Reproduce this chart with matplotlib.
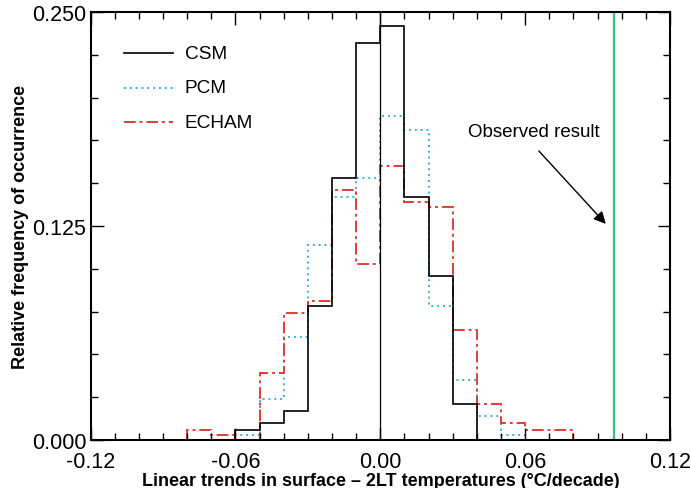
import numpy as np
import matplotlib
matplotlib.use("Agg")
from matplotlib import pyplot as plt
from matplotlib.ticker import MultipleLocator

plt.rcParams['font.family'] = ['Liberation Sans', 'DejaVu Sans']
plt.rcParams['axes.unicode_minus'] = False

# histogram bins (trend, degC/decade) and relative frequencies
bin_edges = [-0.08, -0.07, -0.06, -0.05, -0.04, -0.03, -0.02, -0.01, 0.00,
             0.01, 0.02, 0.03, 0.04, 0.05, 0.06, 0.07, 0.08]
csm = [0.0, 0.0, 0.006, 0.010, 0.017, 0.078, 0.153, 0.232,
       0.242, 0.142, 0.096, 0.021, 0.0, 0.0, 0.0, 0.0]
pcm = [0.0, 0.0, 0.003, 0.024, 0.060, 0.114, 0.142, 0.153,
       0.189, 0.181, 0.078, 0.035, 0.014, 0.003, 0.0, 0.0]
echam = [0.006, 0.003, 0.0, 0.039, 0.074, 0.081, 0.146, 0.103,
         0.160, 0.139, 0.136, 0.064, 0.021, 0.010, 0.006, 0.006]
observed = 0.097

x_ticks = [-0.12, -0.06, 0.00, 0.06, 0.12]
x_labels = ['-0.12', '-0.06', '0.00', '0.06', '0.12']
y_ticks = [0.0, 0.125, 0.25]
y_labels = ['0.000', '0.125', '0.250']

fig = plt.figure(figsize=(6.9, 4.89), dpi=100)
ax = fig.add_axes([0.1314, 0.0982, 0.8396, 0.8753])

blue = '#3aaee0'
red = '#e03c3c'
green = '#3cc080'

ax.stairs(pcm, bin_edges, color=blue, lw=1.4, linestyle=(0, (1, 2)), baseline=0)
ax.stairs(echam, bin_edges, color=red, lw=1.4, linestyle=(0, (6, 2, 1.5, 2)), baseline=0)
ax.stairs(csm, bin_edges, color='black', lw=1.2, baseline=0)
ax.axvline(0, color='black', lw=0.9)
ax.axvline(observed, color=green, lw=1.6)

# legend drawn by hand like the original
leg = [('CSM', 'black', '-', 1.2), ('PCM', blue, (0, (1, 2)), 1.4),
       ('ECHAM', red, (0, (6, 2, 1.5, 2)), 1.4)]
for i, (name, col, ls, lw) in enumerate(leg):
    yy = 0.226 - i * 0.0202
    ax.plot([-0.106, -0.086], [yy, yy], color=col, ls=ls, lw=lw)
    ax.text(-0.081, yy, name, fontsize=13.7, va='center', ha='left')

ax.annotate('', xy=(0.0942, 0.125), xytext=(0.0649, 0.170),
            arrowprops=dict(arrowstyle='-|>', color='black', lw=1.0,
                            mutation_scale=18))
ax.text(0.0635, 0.1800, 'Observed result', fontsize=13.5, ha='center', va='center')

ax.set_xlim(-0.12, 0.12)
ax.set_ylim(0, 0.25)
ax.set_xticks(x_ticks)
ax.set_xticklabels(x_labels)
ax.set_yticks(y_ticks)
ax.set_yticklabels(y_labels)
ax.xaxis.set_minor_locator(MultipleLocator(0.01))
ax.yaxis.set_minor_locator(MultipleLocator(0.025))
ax.tick_params(which='both', direction='in', top=True, right=True,
               labelsize=15.5, width=1.0)
ax.tick_params(which='major', length=9)
ax.tick_params(axis='x', which='major', pad=8)
ax.tick_params(axis='y', which='major', pad=3)
ax.tick_params(which='minor', length=5)
for s in ax.spines.values():
    s.set_linewidth(1.5)

ax.set_xlabel('Linear trends in surface \u2013 2LT temperatures (\u00b0C/decade)',
              fontsize=13, fontweight='bold', labelpad=0)
ax.set_ylabel('Relative frequency of occurrence', fontsize=13,
              fontweight='bold', labelpad=2)

fig.savefig('out.png', dpi=100)
